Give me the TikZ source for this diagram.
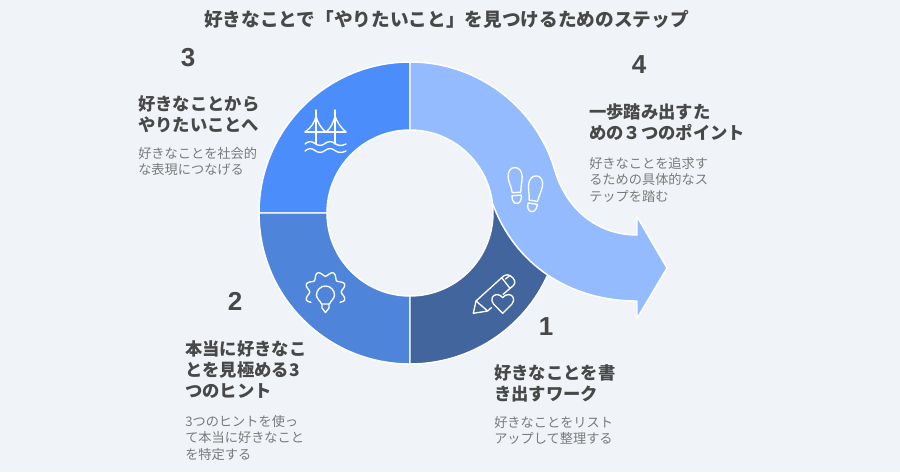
\documentclass[tikz,border=0pt]{standalone}
\usepackage{fontspec}
\setmainfont{Noto Sans CJK JP}
\newfontfamily\digitfont{Liberation Sans}
\def\Ro{113.25pt}
\def\Ri{62.25pt}
\definecolor{bgc}{HTML}{F0F4F8}
\definecolor{segone}{HTML}{43659E}
\definecolor{segtwo}{HTML}{4F84DB}
\definecolor{segthree}{HTML}{4C8DFC}
\definecolor{segfour}{HTML}{94BBFE}
\definecolor{headc}{HTML}{484848}
\definecolor{descc}{HTML}{7A7A7A}
\tikzset{
 seg/.style={draw=white,line width=1.1pt,line join=round},
 icon/.style={draw=white,line width=1pt,line cap=round,line join=round},
 numlabel/.style={font=\digitfont\bfseries\fontsize{19.5}{22}\selectfont,text=headc,inner sep=0pt},
 headtext/.style={font=\bfseries\fontsize{13}{15.75}\selectfont,text=headc,inner sep=0pt,anchor=north west,align=left},
 desctext/.style={font=\fontsize{9.9}{12.4}\selectfont,text=descc,inner sep=0pt,anchor=north west,align=left},
 foot/.pic={
  \draw[icon] (0,0) .. controls (4.5,0) and (7,4) .. (7,9) .. controls (7,14) and (5,19) .. (4.5,25) -- (-4,25) .. controls (-4.5,19) and (-7,14) .. (-7,9) .. controls (-7,4) and (-4.5,0) .. (0,0) -- cycle;
  \draw[icon] (-4.5,28) -- (4.8,28) .. controls (5,33) and (3,36) .. (0,36) .. controls (-3,36) and (-5,33) .. (-4.5,28) -- cycle;
 },
}
\begin{document}
\begin{tikzpicture}[x=0.75pt,y=-0.75pt]
\fill[bgc] (0,0) rectangle (900,472);
\useasboundingbox (0,0) rectangle (900,472);
% segments
\path[seg,fill=segthree] (259,213) arc[start angle=180,end angle=90,radius=\Ro] -- (410,130) arc[start angle=90,end angle=180,radius=\Ri] -- cycle;
\path[seg,fill=segtwo] (410,364) arc[start angle=270,end angle=180,radius=\Ro] -- (327,213) arc[start angle=180,end angle=270,radius=\Ri] -- cycle;
\path[seg,fill=segone] (410,364) arc[start angle=270,end angle=336.4,radius=\Ro] -- (492.4,203) arc[start angle=6.9,end angle=-90,radius=\Ri] -- cycle;
\path[seg,fill=segfour] (410,62) arc[start angle=90,end angle=17.8,radius=\Ro]
  .. controls (566,212) and (600,235) .. (637,235) -- (637,216.5) -- (667,268) -- (637,318.5) -- (637,301)
  .. controls (570,301) and (515,265) .. (492.4,203)
  arc[start angle=6.9,end angle=90,radius=\Ri] -- cycle;
% bridge icon
\draw[icon] (305,132) -- (346,132);
\draw[icon] (316,110) -- (316,144) (335,110) -- (335,144);
\draw[icon] (305,132) .. controls (311,128) and (315,122) .. (316,116) .. controls (318,124) and (322,129) .. (326,132) .. controls (330,129) and (333,124) .. (335,116) .. controls (337,122) and (341,128) .. (346,132);
\draw[icon] (305,144) .. controls (308,141) and (312,141) .. (315,143.5) .. controls (318,146) and (322,146) .. (325,143.5) .. controls (328,141) and (332,141) .. (335,143.5) .. controls (338,146) and (342,146) .. (346,144);
\draw[icon] (305,151) .. controls (308,148) and (312,148) .. (315,150.5) .. controls (318,153) and (322,153) .. (325,150.5) .. controls (328,148) and (332,148) .. (335,150.5) .. controls (338,153) and (342,153) .. (346,151);
% gear bulb icon
\draw[icon,smooth,samples=90,domain=-125:125,variable=\t] plot ({325.5+(18.2+2.4*cos(8*\t+180))*sin(\t)},{292-(18.2+2.4*cos(8*\t+180))*cos(\t)});
\draw[icon] (321.5,304) .. controls (320,300) and (316.5,299) .. (316.5,295) arc[start angle=180,end angle=0,radius=6.75pt] .. controls (334.5,299) and (331,300) .. (329.5,304) -- cycle;
\draw[icon] (322,304) -- (322,308) -- (325.5,312.5) -- (329,308) -- (329,304);
% pencil heart icon
\draw[icon] (473.3,313.3) -- (476,301) -- (501.7,277.7) .. controls (505,274) and (509,273.5) .. (513,278) .. controls (516,281.5) and (515.5,285) .. (510,288.3) -- (503,294.5);
\draw[icon] (473.3,313.3) -- (487.7,311) -- (476,301);
\draw[icon] (487.7,311) -- (491.5,307.5);
\draw[icon] (501.7,277.7) -- (510,288.3);
\draw[icon] (505.5,279) -- (510,275.5);
\draw[icon] (502.7,313.3) -- (493.5,304) .. controls (490,299.5) and (492.5,294.5) .. (497,294.5) .. controls (499.5,294.5) and (501.5,296) .. (502.7,297.7) .. controls (504,296) and (506,294.5) .. (508.5,294.5) .. controls (513,294.5) and (515.5,299.5) .. (512,304) -- cycle;
% footprints
\pic[rotate=4] at (514.5,167.5) {foot};
\pic[rotate=-9] at (537,176) {foot};
% texts
\node[font=\bfseries\fontsize{14}{17}\selectfont,text=headc,inner sep=0pt] (title) at (446.5,19) {好きなことで「やりたいこと」を見つけるためのステップ};
\node[numlabel] (n3) at (188,57.5) {3};
\node[numlabel] (n4) at (639,64.5) {4};
\node[numlabel] (n2) at (235,301.5) {2};
\node[numlabel] (n1) at (546,326.5) {1};
\node[headtext] (h3) at (138,95.5) {好きなことから\\やりたいことへ};
\node[desctext] (d3) at (138,147) {好きなことを社会的\\な表現につなげる};
\node[headtext] (h4) at (589,103.5) {一歩踏み出すた\\めの３つのポイント};
\node[desctext] (d4) at (589,157) {好きなことを追求す\\るための具体的なス\\テップを踏む};
\node[headtext] (h2) at (185,340.5) {本当に好きなこ\\とを見極める3\\つのヒント};
\node[desctext] (d2) at (185,415) {3つのヒントを使っ\\て本当に好きなこと\\を特定する};
\node[headtext] (h1) at (494,364.5) {好きなことを書\\き出すワーク};
\node[desctext] (d1) at (494,416) {好きなことをリスト\\アップして整理する};
\end{tikzpicture}
\end{document}
